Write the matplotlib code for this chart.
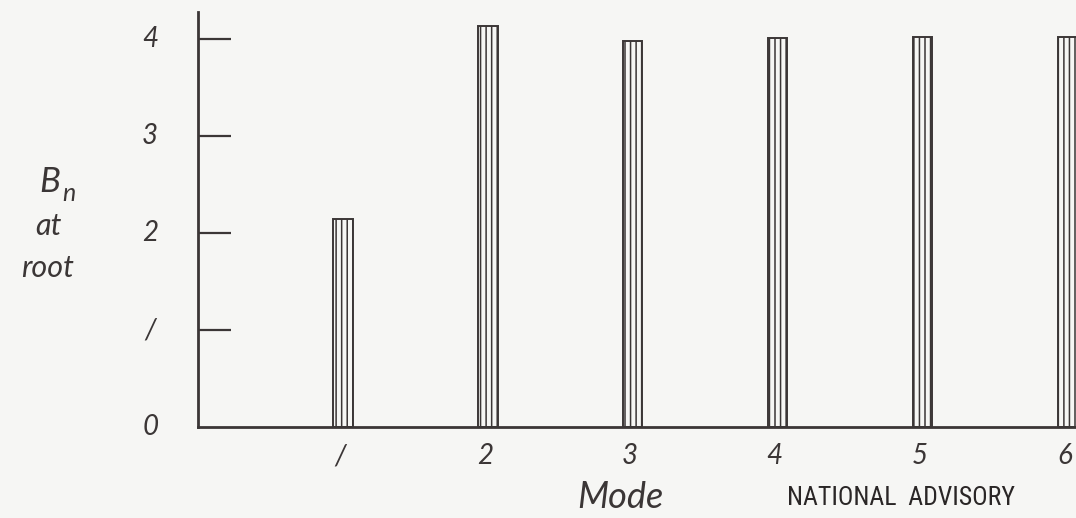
# %% SETUP
import numpy as np
import matplotlib
matplotlib.use("Agg")
import matplotlib.pyplot as plt

# Data
modes = [1, 2, 3, 4, 5, 6]
bn_at_root = [2.15, 4.14, 3.98, 4.01, 4.02, 4.02]
y_ticks = [0, 1, 2, 3, 4]
y_tick_labels = ["0", "/", "2", "3", "4"]
x_tick_labels = ["/", "2", "3", "4", "5", "6"]

ink = "#3b3636"
paper = "#f6f6f4"
hand = dict(family=["Lato", "DejaVu Sans"], style="italic", weight="normal", color=ink)

plt.rcParams["hatch.linewidth"] = 1.1
plt.rcParams["hatch.color"] = ink

# %% FIGURE
fig = plt.figure(figsize=(10.76, 5.18), dpi=100, facecolor=paper)
ax = fig.add_axes([198 / 1076, 1 - 427 / 518, 1 - 198 / 1076, 415 / 518])
ax.set_facecolor(paper)

ax.bar(modes, bn_at_root, width=0.135, color=paper, edgecolor=ink,
       linewidth=1.4, hatch="|||")

ax.set_xlim(0, 6.06)
ax.set_ylim(0, 4.28)

for s in ["top", "right"]:
    ax.spines[s].set_visible(False)
for s in ["left", "bottom"]:
    ax.spines[s].set_color(ink)
    ax.spines[s].set_linewidth(2.0)

# inward ticks on y only, hand-lettered labels
ax.set_yticks(y_ticks)
ax.set_yticklabels([])
ax.tick_params(axis="y", direction="in", length=24, width=1.6, color=ink)
ax.yaxis.get_major_ticks()[0].tick1line.set_visible(False)
ax.set_xticks([])

for v, lab in zip(y_ticks, y_tick_labels):
    ax.text(-0.33, v, lab, ha="center", va="center", fontsize=20, **hand)
for m, lab in zip(modes, x_tick_labels):
    ax.text(m - 0.02, -0.3, lab, ha="center", va="center", fontsize=20, **hand)

# axis titles
fig.text(620 / 1076, 1 - 497 / 518, "Mode", ha="center", va="center",
         fontsize=26, **hand)
fig.text(50 / 1076, 1 - 182 / 518, "B", ha="center", va="center", fontsize=25, **hand)
fig.text(69 / 1076, 1 - 194 / 518, "n", ha="center", va="center", fontsize=18, **hand)
fig.text(48 / 1076, 1 - 226 / 518, "at", ha="center", va="center", fontsize=22, **hand)
fig.text(48 / 1076, 1 - 268 / 518, "root", ha="center", va="center", fontsize=22, **hand)

fig.text(901 / 1076, 1 - 498 / 518, "NATIONAL  ADVISORY", ha="center", va="center",
         fontsize=18.5, family=["Liberation Sans Narrow", "Roboto Condensed", "DejaVu Sans"],
         stretch="condensed", color="#2a2626")

fig.savefig("out.png", dpi=100, facecolor=paper)
